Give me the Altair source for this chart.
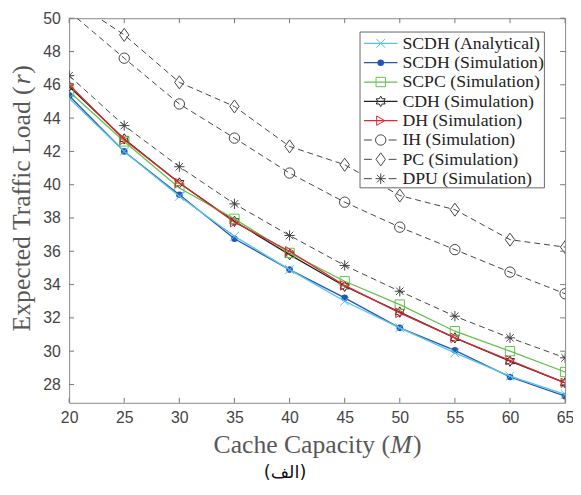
import math
import altair as alt
import pandas as pd

# ---------------- data ----------------
M = [20, 25, 30, 35, 40, 45, 50, 55, 60, 65]
scdh_analytical = [45.2, 42.0, 39.3, 36.9, 34.9, 33.0, 31.4, 29.9, 28.5, 27.4]
scdh_sim = [45.35, 42.0, 39.4, 36.75, 34.9, 33.2, 31.4, 30.05, 28.45, 27.3]
scpc = [45.6, 42.6, 39.8, 37.95, 35.9, 34.2, 32.8, 31.2, 30.0, 28.75]
cdh = [45.9, 42.75, 40.1, 37.8, 35.8, 33.9, 32.35, 30.8, 29.4, 28.1]
dh = [46.0, 42.7, 40.1, 37.75, 36.0, 33.95, 32.3, 30.8, 29.45, 28.1]
ih = [50.4, 47.6, 44.85, 42.8, 40.7, 38.95, 37.45, 36.1, 34.75, 33.45]
pc = [51.2, 49.0, 46.15, 44.7, 42.3, 41.2, 39.35, 38.5, 36.7, 36.25]
dpu = [46.55, 43.55, 41.08, 38.85, 36.95, 35.15, 33.6, 32.1, 30.8, 29.6]

x_ticks = [20, 25, 30, 35, 40, 45, 50, 55, 60, 65]
y_ticks = [28, 30, 32, 34, 36, 38, 40, 42, 44, 46, 48, 50]

# ---------------- styles ----------------
W, H = 503, 390
CYAN = "#55c1e6"
BLUE = "#2457b5"
GREEN = "#62c24c"
RED = "#e0282e"
BLACK = "#222222"
DASHC = "#444444"

XPATH = "M-1,-1L1,1M-1,1L1,-1"
ASTER = "M-1,0L1,0M0,-1L0,1M-0.72,-0.72L0.72,0.72M-0.72,0.72L0.72,-0.72"
DIAM = "M0,-1L0.72,0L0,1L-0.72,0Z"
pts = []
for k in range(12):
    ang = -math.pi / 2 + k * math.pi / 6
    r = 1.0 if k % 2 == 0 else 0.58
    pts.append(f"{r*math.cos(ang):.3f},{r*math.sin(ang):.3f}")
HEXA = "M" + "L".join(pts) + "Z"

series = [
    dict(name="PC (Simulation)", vals=pc, color=DASHC, shape=DIAM, size=175, filled=False, dash=[6, 4], order=6),
    dict(name="IH (Simulation)", vals=ih, color=DASHC, shape="circle", size=110, filled=False, dash=[6, 4], order=5),
    dict(name="DPU (Simulation)", vals=dpu, color=DASHC, shape=ASTER, size=110, filled=False, dash=[6, 4], order=7),
    dict(name="CDH (Simulation)", vals=cdh, color=BLACK, shape=HEXA, size=110, filled=False, dash=None, order=3),
    dict(name="SCPC (Simulation)", vals=scpc, color=GREEN, shape="square", size=90, filled=False, dash=None, order=2),
    dict(name="DH (Simulation)", vals=dh, color=RED, shape="triangle-right", size=90, filled=False, dash=None, order=4),
    dict(name="SCDH (Simulation)", vals=scdh_sim, color=BLUE, shape="circle", size=45, filled=True, dash=None, order=1),
    dict(name="SCDH (Analytical)", vals=scdh_analytical, color=CYAN, shape=XPATH, size=80, filled=False, dash=None, order=0),
]

xs = alt.Scale(domain=[20, 65], nice=False, zero=False)
ys = alt.Scale(domain=[26.9, 50], nice=False, zero=False)
LABEL_FONT = "Liberation Sans"
xaxis = alt.Axis(values=x_ticks, ticks=False, tickSize=0, domain=False, grid=False, title=None,
                 labelFlush=False, labelOverlap=False,
                 labelFont=LABEL_FONT, labelFontSize=16, labelColor="#444444", labelPadding=7)
yaxis = alt.Axis(values=y_ticks, ticks=False, tickSize=0, domain=False, grid=False, title=None,
                 labelFlush=False, labelOverlap=False,
                 labelFont=LABEL_FONT, labelFontSize=16, labelColor="#444444", labelPadding=9)

layers = []
for s in series:
    df = pd.DataFrame({"M": M, "v": s["vals"]})
    lk = dict(color=s["color"], strokeWidth=1.0 if s["dash"] else 1.3, clip=True)
    if s["dash"]:
        lk["strokeDash"] = s["dash"]
    line = alt.Chart(df).mark_line(**lk).encode(
        x=alt.X("M:Q", scale=xs, axis=xaxis), y=alt.Y("v:Q", scale=ys, axis=yaxis))
    if s["filled"]:
        pt = alt.Chart(df).mark_point(shape=s["shape"], filled=True, color=s["color"], size=s["size"],
                                      opacity=1, clip=True)
    else:
        pt = alt.Chart(df).mark_point(shape=s["shape"], filled=False, color=s["color"], size=s["size"],
                                      strokeWidth=1, opacity=1, clip=True)
    pt = pt.encode(x=alt.X("M:Q", scale=xs, axis=xaxis), y=alt.Y("v:Q", scale=ys, axis=yaxis))
    layers += [line, pt]

# inward tick marks on all four sides
TC = "#777777"
tx = pd.DataFrame({"t": x_ticks})
ty = pd.DataFrame({"t": y_ticks})
layers.append(alt.Chart(tx).mark_rule(color=TC, strokeWidth=1).encode(
    x=alt.X("t:Q", scale=xs, axis=xaxis), y=alt.value(H), y2=alt.value(H - 5)))
layers.append(alt.Chart(tx).mark_rule(color=TC, strokeWidth=1).encode(
    x=alt.X("t:Q", scale=xs, axis=xaxis), y=alt.value(0), y2=alt.value(5)))
layers.append(alt.Chart(ty).mark_rule(color=TC, strokeWidth=1).encode(
    y=alt.Y("t:Q", scale=ys, axis=yaxis), x=alt.value(0), x2=alt.value(5)))
layers.append(alt.Chart(ty).mark_rule(color=TC, strokeWidth=1).encode(
    y=alt.Y("t:Q", scale=ys, axis=yaxis), x=alt.value(W), x2=alt.value(W - 5)))

# ---------------- legend ----------------
one = pd.DataFrame({"a": [0]})
LX0, LX1, LY0, LY1 = 295, 482, 14, 172
layers.append(alt.Chart(one).mark_rect(fill="white", stroke="#666666", strokeWidth=1).encode(
    x=alt.value(LX0), x2=alt.value(LX1), y=alt.value(LY0), y2=alt.value(LY1)))
for s in sorted(series, key=lambda d: d["order"]):
    yy = 25.5 + s["order"] * 19.6
    if s["dash"]:
        lg = alt.Chart(one).mark_rule(color=s["color"], strokeWidth=1, strokeDash=[8, 17])
    else:
        lg = alt.Chart(one).mark_rule(color=s["color"], strokeWidth=1.3)
    layers.append(lg.encode(x=alt.value(299), x2=alt.value(333), y=alt.value(yy)))
    if s["filled"]:
        lp = alt.Chart(one).mark_point(shape=s["shape"], filled=True, color=s["color"], size=s["size"], opacity=1)
    else:
        lp = alt.Chart(one).mark_point(shape=s["shape"], filled=False, color=s["color"], size=s["size"],
                                       strokeWidth=1, opacity=1)
    layers.append(lp.encode(x=alt.value(316), y=alt.value(yy)))
    layers.append(alt.Chart(pd.DataFrame({"t": [s["name"]]})).mark_text(
        font="Liberation Serif", fontSize=18, color="#222222", align="left", baseline="middle").encode(
        x=alt.value(338), y=alt.value(yy + 0.5), text="t:N"))

# ---------------- titles ----------------
TF = "Liberation Serif"
TS = 26
TCOL = "#585858"


def txt(s, x, y, **kw):
    return alt.Chart(pd.DataFrame({"t": [s]})).mark_text(font=TF, fontSize=TS, color=TCOL, **kw).encode(
        x=alt.value(x), y=alt.value(y), text="t:N")


# x title: "Cache Capacity (" + italic M + ")"
layers.append(txt("Cache Capacity (", 146.5, 433, align="left", baseline="middle"))
layers.append(txt("M", 325.8, 433, align="left", baseline="middle", fontStyle="italic"))
layers.append(txt(")", 348.8, 433, align="left", baseline="middle"))
# y title rotated: "Expected Traffic Load (" + italic r + ")"
layers.append(txt("Expected Traffic Load (", -48, 317.6, align="left", baseline="middle", angle=270))
layers.append(txt("r", -48, 67.0, align="left", baseline="middle", angle=270, fontStyle="italic"))
layers.append(txt(")", -48, 56.3, align="left", baseline="middle", angle=270))

# caption
layers.append(alt.Chart(pd.DataFrame({"t": ["(الف)"]})).mark_text(
    font="DejaVu Sans", fontSize=18, color="#111111", align="center", baseline="middle").encode(
    x=alt.value(219), y=alt.value(461), text="t:N"))

chart = alt.layer(*layers).properties(
    width=W, height=H,
    autosize=alt.AutoSizeParams(type="none"),
    padding={"left": 62, "top": 7, "right": 8, "bottom": 80},
    background="white",
).configure_view(stroke="#888888", strokeWidth=1)

chart.save("out.html", embed_options={"renderer": "svg", "actions": False})
